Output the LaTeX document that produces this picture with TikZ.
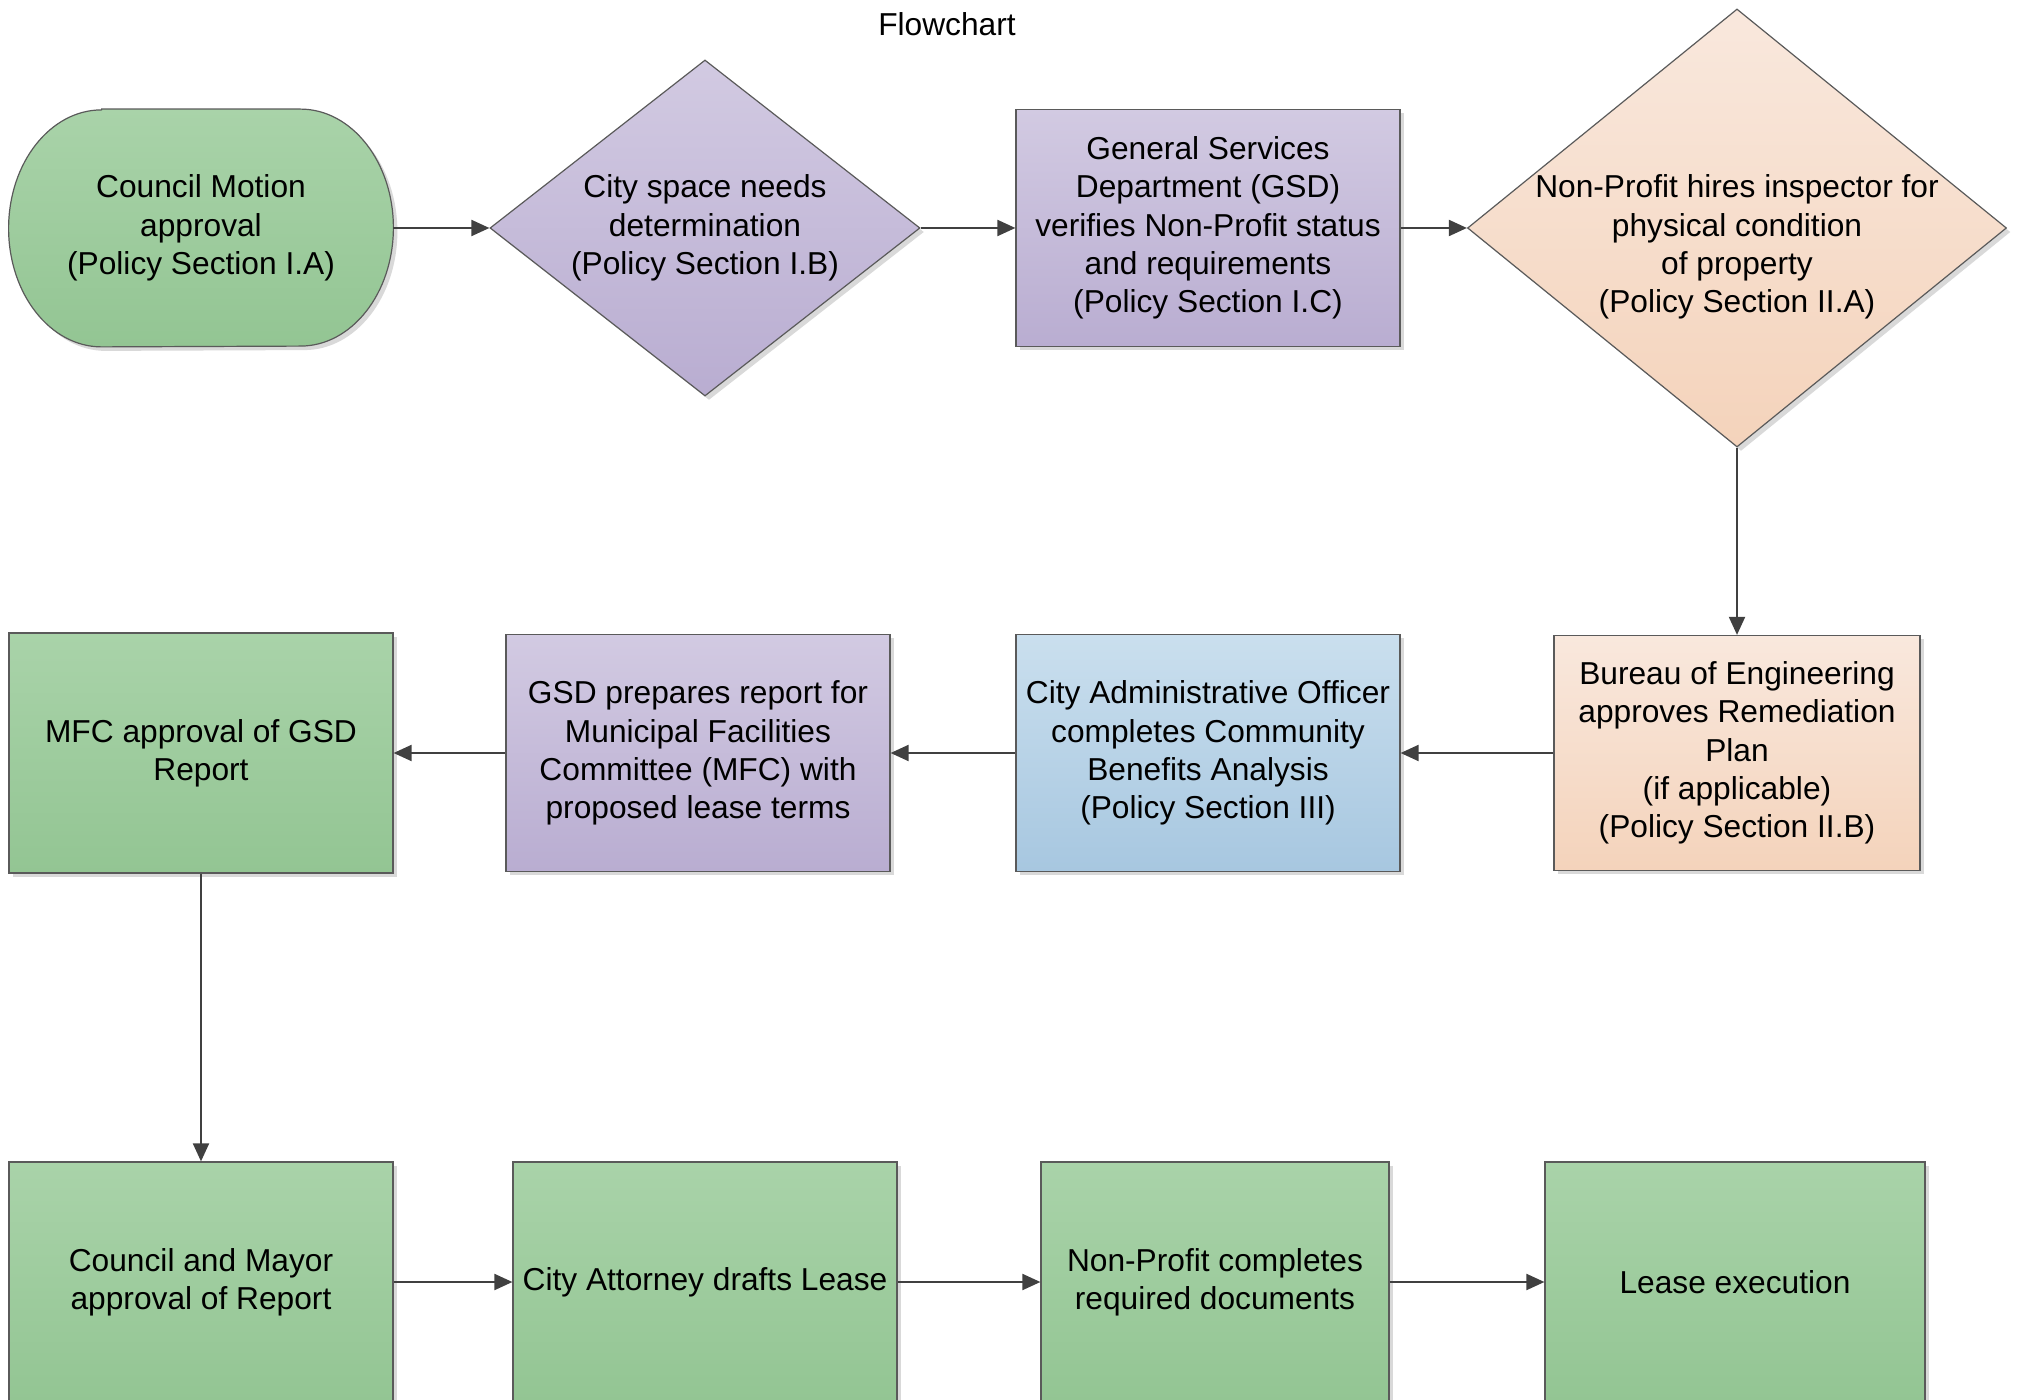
\documentclass[tikz,border=0pt]{standalone}
\usepackage{fontspec}
\setmainfont{Liberation Sans}
\usetikzlibrary{shapes.geometric,shadows,arrows.meta,calc,backgrounds}

\definecolor{grnT}{HTML}{A9D3A9}
\definecolor{grnB}{HTML}{93C593}
\definecolor{purT}{HTML}{D2CAE2}
\definecolor{purB}{HTML}{B9ADD1}
\definecolor{orT}{HTML}{F9E8DD}
\definecolor{orB}{HTML}{F4D3BB}
\definecolor{bluT}{HTML}{CADFEE}
\definecolor{bluB}{HTML}{A7C7E0}
\definecolor{edgecol}{HTML}{5A5A5A}
\definecolor{arrcol}{HTML}{404040}

\begin{document}
\begin{tikzpicture}[x=0.5pt,y=-0.5pt,
  every node/.style={font=\fontsize{15.85}{19.15}\selectfont, align=center, text=black, inner sep=0pt},
  shd/.style={drop shadow={shadow xshift=2pt, shadow yshift=-2pt, fill=black!25, opacity=0.6}},
  box/.style={rectangle, draw=edgecol, line width=0.6pt, minimum width=192pt, minimum height=118.5pt, shd},
  grnfill/.style={top color=grnT, bottom color=grnB},
  purfill/.style={top color=purT, bottom color=purB},
  orfill/.style={top color=orT, bottom color=orB},
  blufill/.style={top color=bluT, bottom color=bluB},
  dia/.style={diamond, draw=edgecol, line width=0.6pt, shd},
  flow/.style={draw=arrcol, line width=1pt, -{Triangle[length=9pt,width=8pt]}}
]
\clip (0,0) rectangle (2020,1400);
\useasboundingbox (0,0) rectangle (2020,1400);

% title
\node (title) at (947,24) {Flowchart};

% row 1
\node[minimum width=192pt, minimum height=118.5pt] (cm) at (201,228) {Council Motion\\approval\\(Policy Section I.A)};
\begin{scope}[on background layer]
  \path[fill=black!25, opacity=0.6]
    ($(cm.north west)+(97,4)$) -- ($(cm.north east)+(-89,4)$)
    arc[start angle=-90, end angle=90, x radius=93, y radius=118.5]
    -- ($(cm.south west)+(97,4)$)
    arc[start angle=90, end angle=270, x radius=93, y radius=118.5] -- cycle;
  \path[grnfill, draw=edgecol, line width=0.6pt]
    ($(cm.north west)+(93,0)$) -- ($(cm.north east)+(-93,0)$)
    arc[start angle=-90, end angle=90, x radius=93, y radius=118.5]
    -- ($(cm.south west)+(93,0)$)
    arc[start angle=90, end angle=270, x radius=93, y radius=118.5] -- cycle;
\end{scope}

\node[dia, purfill, minimum width=215pt, minimum height=168pt,
      label={[name=cityt]center:City space needs\\determination\\(Policy Section I.B)}] (city) at (705,228) {};

\node[box, purfill] (gsd) at (1208,228) {General Services\\Department (GSD)\\verifies Non-Profit status\\and requirements\\(Policy Section I.C)};

\node[dia, orfill, minimum width=269.5pt, minimum height=219pt,
      label={[name=npt, yshift=-9.5pt]center:Non-Profit hires inspector for\\physical condition\\of property\\(Policy Section II.A)}] (np) at (1737,228) {};

% row 2
\node[box, grnfill, minimum height=120pt] (mfc) at (201,753) {MFC approval of GSD\\Report};
\node[box, purfill] (prep) at (698,753) {GSD prepares report for\\Municipal Facilities\\Committee (MFC) with\\proposed lease terms};
\node[box, blufill] (cao) at (1208,753) {City Administrative Officer\\completes Community\\Benefits Analysis\\(Policy Section III)};
\node[box, orfill, minimum width=183pt, minimum height=117.5pt] (boe) at (1737,753) {Bureau of Engineering\\approves Remediation\\Plan\\(if applicable)\\(Policy Section II.B)};

% row 3
\node[box, grnfill, minimum height=120pt] (cmr) at (201,1282) {Council and Mayor\\approval of Report};
\node[box, grnfill, minimum height=120pt] (atty) at (705,1282) {City Attorney drafts Lease};
\node[box, grnfill, minimum width=174pt, minimum height=120pt] (npc) at (1215,1282) {Non-Profit completes\\required documents};
\node[box, grnfill, minimum width=190pt, minimum height=120pt] (lease) at (1735,1282) {Lease execution};

% connectors
\draw[flow] (cm.east) -- (city.west);
\draw[flow] (city.east) -- (gsd.west);
\draw[flow] (gsd.east) -- (np.west);
\draw[flow] (np.south) -- (boe.north);
\draw[flow] (boe.west) -- (cao.east);
\draw[flow] (cao.west) -- (prep.east);
\draw[flow] (prep.west) -- (mfc.east);
\draw[flow] (mfc.south) -- (cmr.north);
\draw[flow] (cmr.east) -- (atty.west);
\draw[flow] (atty.east) -- (npc.west);
\draw[flow] (npc.east) -- (lease.west);
\end{tikzpicture}
\end{document}
